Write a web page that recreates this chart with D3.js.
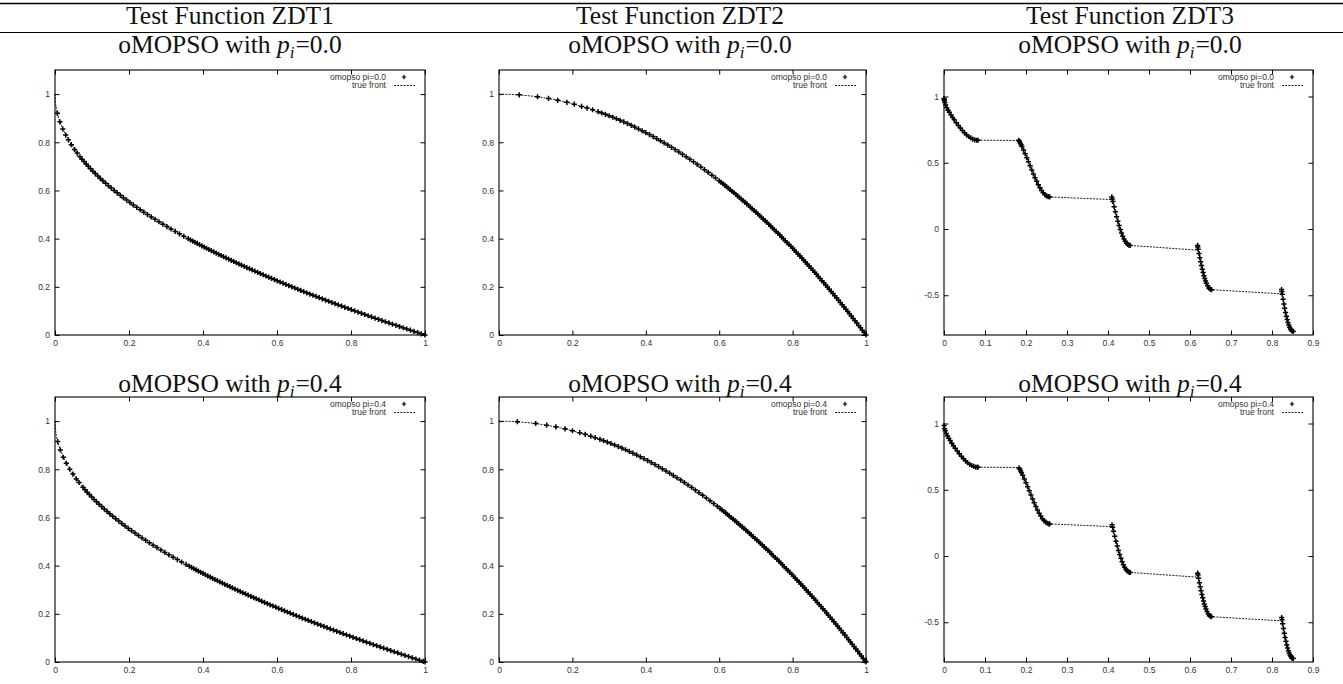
<!DOCTYPE html>
<html><head><meta charset="utf-8">
<script src="https://cdn.jsdelivr.net/npm/d3@7"></script>
<style>body{margin:0;background:#fff}svg{display:block}</style>
</head><body><svg id="c" width="1343" height="684"></svg>
<script>
// ---------------- data ----------------
const functionTitles = ["Test Function ZDT1", "Test Function ZDT2", "Test Function ZDT3"];
const piValues = ["0.0", "0.4"];
const ticks01 = [0, 0.2, 0.4, 0.6, 0.8, 1];
const ticksZdt3X = [0, 0.1, 0.2, 0.3, 0.4, 0.5, 0.6, 0.7, 0.8, 0.9];
const ticksZdt3Y = [-0.5, 0, 0.5, 1];
const domain01X = [0, 1], domain01Y = [0, 1.1];
const domainZdt3X = [0, 0.9], domainZdt3Y = [-0.8, 1.2];

const zdt1Front = [[0,1],[0.0001,0.99],[0.0004,0.98],[0.0016,0.96],[0.0036,0.94],[0.0064,0.92],[0.01,0.9],[0.0225,0.85],[0.04,0.8],[0.0625,0.75],[0.09,0.7],[0.1225,0.65],[0.16,0.6],[0.2025,0.55],[0.25,0.5],[0.3025,0.45],[0.36,0.4],[0.4225,0.35],[0.49,0.3],[0.5625,0.25],[0.64,0.2],[0.7225,0.15],[0.81,0.1],[0.9025,0.05],[1,0]];
const zdt2Front = [[0,1],[0.05,0.9975],[0.1,0.99],[0.15,0.9775],[0.2,0.96],[0.25,0.9375],[0.3,0.91],[0.35,0.8775],[0.4,0.84],[0.45,0.7975],[0.5,0.75],[0.55,0.6975],[0.6,0.64],[0.65,0.5775],[0.7,0.51],[0.75,0.4375],[0.8,0.36],[0.85,0.2775],[0.9,0.19],[0.95,0.0975],[1,0]];
const zdt3Front = [[0,1],[0.0005,0.978],[0.002,0.955],[0.007,0.915],[0.013,0.881],[0.021,0.842],[0.030,0.802],[0.040,0.762],[0.050,0.726],[0.060,0.698],[0.070,0.679],[0.080,0.670],[0.083,0.670],
 [0.1822,0.668],[0.190,0.623],[0.198,0.568],[0.206,0.508],[0.214,0.446],[0.222,0.387],[0.230,0.334],[0.238,0.291],[0.246,0.260],[0.254,0.244],[0.2578,0.242],
 [0.4105,0.222],[0.415,0.167],[0.421,0.093],[0.427,0.026],[0.433,-0.031],[0.439,-0.076],[0.445,-0.107],[0.451,-0.122],[0.4539,-0.124],
 [0.6203,-0.160],[0.624,-0.217],[0.628,-0.276],[0.632,-0.329],[0.636,-0.373],[0.640,-0.409],[0.646,-0.445],[0.6525,-0.458],
 [0.825,-0.490],[0.829,-0.566],[0.833,-0.630],[0.837,-0.683],[0.841,-0.725],[0.845,-0.754],[0.849,-0.770],[0.8518,-0.773]];

const zdt1Pi00 = [[0.0064,0.920],[0.0132,0.885],[0.0210,0.855],[0.0289,0.830],[0.0361,0.810],[0.0441,0.790],[0.0529,0.770],[0.0600,0.755],[0.0676,0.740],
 [0.0729,0.73],[0.0784,0.72],[0.0841,0.71],[0.0900,0.70],[0.0961,0.69],[0.1024,0.68],[0.1089,0.67],[0.1156,0.66],[0.1225,0.65],[0.1296,0.64],[0.1369,0.63],[0.1444,0.62],[0.1521,0.61],[0.1600,0.60],[0.1681,0.59],[0.1764,0.58],[0.1849,0.57],[0.1936,0.56],[0.2025,0.55],[0.2116,0.54],[0.2209,0.53],[0.2304,0.52],[0.2401,0.51],[0.2500,0.50],[0.2601,0.49],[0.2704,0.48],[0.2809,0.47],[0.2916,0.46],[0.3025,0.45],[0.3136,0.44],[0.3249,0.43],[0.3364,0.42],[0.3481,0.41],[0.3600,0.40],
 [0.3660,0.395],[0.3721,0.39],[0.3782,0.385],[0.3844,0.38],[0.3906,0.375],[0.3969,0.37],[0.4032,0.365],[0.4096,0.36],[0.4160,0.355],[0.4225,0.35],[0.4290,0.345],[0.4356,0.34],[0.4422,0.335],[0.4489,0.33],[0.4556,0.325],[0.4624,0.32],[0.4692,0.315],[0.4761,0.31],[0.4830,0.305],[0.4900,0.30],[0.4970,0.295],[0.5041,0.29],[0.5112,0.285],[0.5184,0.28],[0.5256,0.275],[0.5329,0.27],[0.5402,0.265],[0.5476,0.26],[0.5550,0.255],[0.5625,0.25],[0.5700,0.245],[0.5776,0.24],[0.5852,0.235],[0.5929,0.23],[0.6006,0.225],[0.6084,0.22],[0.6162,0.215],[0.6241,0.21],[0.6320,0.205],[0.6400,0.20],[0.6480,0.195],[0.6561,0.19],[0.6642,0.185],[0.6724,0.18],[0.6806,0.175],[0.6889,0.17],[0.6972,0.165],[0.7056,0.16],[0.7140,0.155],[0.7225,0.15],[0.7310,0.145],[0.7396,0.14],[0.7482,0.135],[0.7569,0.13],[0.7656,0.125],[0.7744,0.12],[0.7832,0.115],[0.7921,0.11],[0.8010,0.105],[0.8100,0.10],[0.8190,0.095],[0.8281,0.09],[0.8372,0.085],[0.8464,0.08],[0.8556,0.075],[0.8649,0.07],[0.8742,0.065],[0.8836,0.06],[0.8930,0.055],[0.9025,0.05],[0.9120,0.045],[0.9216,0.04],[0.9312,0.035],[0.9409,0.03],[0.9506,0.025],[0.9604,0.02],[0.9702,0.015],[0.9801,0.01],[0.9900,0.005],[1.0000,0.0]];

const zdt1Pi04 = [[0.0072,0.915],[0.0144,0.88],[0.0225,0.85],[0.0306,0.825],[0.0400,0.80],[0.0484,0.78],[0.0576,0.76],[0.0650,0.745],
 [0.0756,0.725],[0.0812,0.715],[0.0870,0.705],[0.0930,0.695],[0.0992,0.685],[0.1056,0.675],[0.1122,0.665],[0.1190,0.655],[0.1260,0.645],[0.1332,0.635],[0.1406,0.625],[0.1482,0.615],[0.1560,0.605],[0.1640,0.595],[0.1722,0.585],[0.1806,0.575],[0.1892,0.565],[0.1980,0.555],[0.2070,0.545],[0.2162,0.535],[0.2256,0.525],[0.2352,0.515],[0.2450,0.505],[0.2550,0.495],[0.2652,0.485],[0.2756,0.475],[0.2862,0.465],[0.2970,0.455],[0.3080,0.445],[0.3192,0.435],[0.3306,0.425],[0.3422,0.415],[0.3540,0.405],
 [0.3630,0.3975],[0.3691,0.3925],[0.3752,0.3875],[0.3813,0.3825],[0.3875,0.3775],[0.3938,0.3725],[0.4001,0.3675],[0.4064,0.3625],[0.4128,0.3575],[0.4193,0.3525],[0.4258,0.3475],[0.4323,0.3425],[0.4389,0.3375],[0.4456,0.3325],[0.4523,0.3275],[0.4590,0.3225],[0.4658,0.3175],[0.4727,0.3125],[0.4796,0.3075],[0.4865,0.3025],[0.4935,0.2975],[0.5006,0.2925],[0.5077,0.2875],[0.5148,0.2825],[0.5220,0.2775],[0.5293,0.2725],[0.5366,0.2675],[0.5439,0.2625],[0.5513,0.2575],[0.5588,0.2525],[0.5663,0.2475],[0.5738,0.2425],[0.5814,0.2375],[0.5891,0.2325],[0.5968,0.2275],[0.6045,0.2225],[0.6123,0.2175],[0.6202,0.2125],[0.6281,0.2075],[0.6360,0.2025],[0.6440,0.1975],[0.6521,0.1925],[0.6602,0.1875],[0.6683,0.1825],[0.6765,0.1775],[0.6848,0.1725],[0.6931,0.1675],[0.7014,0.1625],[0.7098,0.1575],[0.7183,0.1525],[0.7268,0.1475],[0.7353,0.1425],[0.7439,0.1375],[0.7526,0.1325],[0.7613,0.1275],[0.7700,0.1225],[0.7788,0.1175],[0.7877,0.1125],[0.7966,0.1075],[0.8055,0.1025],[0.8145,0.0975],[0.8236,0.0925],[0.8327,0.0875],[0.8418,0.0825],[0.8510,0.0775],[0.8603,0.0725],[0.8696,0.0675],[0.8789,0.0625],[0.8883,0.0575],[0.8978,0.0525],[0.9073,0.0475],[0.9168,0.0425],[0.9264,0.0375],[0.9361,0.0325],[0.9458,0.0275],[0.9555,0.0225],[0.9653,0.0175],[0.9752,0.0125],[0.9851,0.0075],[0.9950,0.0025],[1.0,0.0]];

const zdt2Pi00 = [[0.055,0.997],[0.105,0.989],[0.135,0.982],[0.160,0.974],[0.185,0.966],[0.205,0.958],[0.225,0.949],[0.240,0.942],[0.255,0.935],
 [0.27,0.9271],[0.28,0.9216],[0.29,0.9159],[0.30,0.91],[0.31,0.9039],[0.32,0.8976],[0.33,0.8911],[0.34,0.8844],[0.35,0.8775],[0.36,0.8704],[0.37,0.8631],[0.38,0.8556],[0.39,0.8479],[0.40,0.84],[0.41,0.8319],[0.42,0.8236],[0.43,0.8151],[0.44,0.8064],[0.45,0.7975],[0.46,0.7884],[0.47,0.7791],[0.48,0.7696],[0.49,0.7599],[0.50,0.75],[0.51,0.7399],[0.52,0.7296],[0.53,0.7191],[0.54,0.7084],[0.55,0.6975],[0.56,0.6864],[0.57,0.6751],[0.58,0.6636],[0.59,0.6519],[0.60,0.64],
 [0.605,0.634],[0.61,0.6279],[0.615,0.6218],[0.62,0.6156],[0.625,0.6094],[0.63,0.6031],[0.635,0.5968],[0.64,0.5904],[0.645,0.584],[0.65,0.5775],[0.655,0.571],[0.66,0.5644],[0.665,0.5578],[0.67,0.5511],[0.675,0.5444],[0.68,0.5376],[0.685,0.5308],[0.69,0.5239],[0.695,0.517],[0.70,0.51],[0.705,0.503],[0.71,0.4959],[0.715,0.4888],[0.72,0.4816],[0.725,0.4744],[0.73,0.4671],[0.735,0.4598],[0.74,0.4524],[0.745,0.445],[0.75,0.4375],[0.755,0.43],[0.76,0.4224],[0.765,0.4148],[0.77,0.4071],[0.775,0.3994],[0.78,0.3916],[0.785,0.3838],[0.79,0.3759],[0.795,0.368],[0.80,0.36],[0.805,0.352],[0.81,0.3439],[0.815,0.3358],[0.82,0.3276],[0.825,0.3194],[0.83,0.3111],[0.835,0.3028],[0.84,0.2944],[0.845,0.286],[0.85,0.2775],[0.855,0.269],[0.86,0.2604],[0.865,0.2518],[0.87,0.2431],[0.875,0.2344],[0.88,0.2256],[0.885,0.2168],[0.89,0.2079],[0.895,0.199],[0.90,0.19],[0.905,0.181],[0.91,0.1719],[0.915,0.1628],[0.92,0.1536],[0.925,0.1444],[0.93,0.1351],[0.935,0.1258],[0.94,0.1164],[0.945,0.107],[0.95,0.0975],[0.955,0.088],[0.96,0.0784],[0.965,0.0688],[0.97,0.0591],[0.975,0.0494],[0.98,0.0396],[0.985,0.0298],[0.99,0.0199],[0.995,0.01],[1.0,0.0]];

const zdt2Pi04 = [[0.05,0.9975],[0.10,0.99],[0.13,0.983],[0.155,0.976],[0.18,0.968],[0.20,0.96],[0.22,0.952],[0.235,0.945],[0.25,0.9375],[0.262,0.931],
 [0.275,0.9244],[0.285,0.9188],[0.295,0.913],[0.305,0.907],[0.315,0.9008],[0.325,0.8944],[0.335,0.8878],[0.345,0.881],[0.355,0.874],[0.365,0.8668],[0.375,0.8594],[0.385,0.8518],[0.395,0.844],[0.405,0.836],[0.415,0.8278],[0.425,0.8194],[0.435,0.8108],[0.445,0.802],[0.455,0.793],[0.465,0.7838],[0.475,0.7744],[0.485,0.7648],[0.495,0.755],[0.505,0.745],[0.515,0.7348],[0.525,0.7244],[0.535,0.7138],[0.545,0.703],[0.555,0.692],[0.565,0.6808],[0.575,0.6694],[0.585,0.6578],[0.595,0.646],
 [0.6025,0.637],[0.6075,0.6309],[0.6125,0.6248],[0.6175,0.6187],[0.6225,0.6125],[0.6275,0.6062],[0.6325,0.5999],[0.6375,0.5936],[0.6425,0.5872],[0.6475,0.5807],[0.6525,0.5742],[0.6575,0.5677],[0.6625,0.5611],[0.6675,0.5544],[0.6725,0.5477],[0.6775,0.541],[0.6825,0.5342],[0.6875,0.5273],[0.6925,0.5204],[0.6975,0.5135],[0.7025,0.5065],[0.7075,0.4994],[0.7125,0.4923],[0.7175,0.4852],[0.7225,0.478],[0.7275,0.4707],[0.7325,0.4634],[0.7375,0.4561],[0.7425,0.4487],[0.7475,0.4412],[0.7525,0.4337],[0.7575,0.4262],[0.7625,0.4186],[0.7675,0.4109],[0.7725,0.4032],[0.7775,0.3955],[0.7825,0.3877],[0.7875,0.3798],[0.7925,0.3719],[0.7975,0.364],[0.8025,0.356],[0.8075,0.3479],[0.8125,0.3398],[0.8175,0.3317],[0.8225,0.3235],[0.8275,0.3152],[0.8325,0.3069],[0.8375,0.2986],[0.8425,0.2902],[0.8475,0.2817],[0.8525,0.2732],[0.8575,0.2647],[0.8625,0.2561],[0.8675,0.2474],[0.8725,0.2387],[0.8775,0.23],[0.8825,0.2212],[0.8875,0.2123],[0.8925,0.2034],[0.8975,0.1945],[0.9025,0.1855],[0.9075,0.1764],[0.9125,0.1673],[0.9175,0.1582],[0.9225,0.149],[0.9275,0.1397],[0.9325,0.1304],[0.9375,0.1211],[0.9425,0.1117],[0.9475,0.1022],[0.9525,0.0927],[0.9575,0.0832],[0.9625,0.0736],[0.9675,0.0639],[0.9725,0.0542],[0.9775,0.0445],[0.9825,0.0347],[0.9875,0.0248],[0.9925,0.0149],[0.9975,0.005],[1.0,0.0]];

const zdt3Pi00 = [[0,0.985],[0.0005,0.978],[0.001,0.968],[0.002,0.955],[0.004,0.936],[0.007,0.915],[0.010,0.897],[0.013,0.881],[0.017,0.861],[0.021,0.842],[0.025,0.824],[0.030,0.802],[0.035,0.782],[0.040,0.762],[0.045,0.743],[0.050,0.726],[0.055,0.711],[0.060,0.698],[0.065,0.687],[0.070,0.679],[0.075,0.673],[0.080,0.670],[0.083,0.670],
 [0.1822,0.670],[0.184,0.660],[0.186,0.648],[0.188,0.636],[0.190,0.623],[0.194,0.596],[0.198,0.568],[0.202,0.538],[0.206,0.508],[0.210,0.477],[0.214,0.446],[0.218,0.416],[0.222,0.387],[0.226,0.360],[0.230,0.334],[0.234,0.311],[0.238,0.291],[0.242,0.274],[0.246,0.260],[0.250,0.250],[0.254,0.244],[0.2578,0.242],
 [0.4093,0.242],[0.4105,0.226],[0.412,0.207],[0.415,0.167],[0.418,0.130],[0.421,0.093],[0.424,0.059],[0.427,0.026],[0.430,-0.004],[0.433,-0.031],[0.436,-0.055],[0.439,-0.076],[0.442,-0.093],[0.445,-0.107],[0.448,-0.116],[0.451,-0.122],[0.4539,-0.124],
 [0.6184,-0.124],[0.619,-0.135],[0.620,-0.152],[0.622,-0.185],[0.624,-0.217],[0.626,-0.248],[0.628,-0.276],[0.630,-0.303],[0.632,-0.329],[0.634,-0.352],[0.636,-0.373],[0.638,-0.392],[0.640,-0.409],[0.643,-0.429],[0.646,-0.445],[0.649,-0.454],[0.6525,-0.458],
 [0.8233,-0.457],[0.824,-0.472],[0.825,-0.492],[0.827,-0.530],[0.829,-0.566],[0.831,-0.599],[0.833,-0.630],[0.835,-0.658],[0.837,-0.683],[0.839,-0.705],[0.841,-0.725],[0.843,-0.741],[0.845,-0.754],[0.847,-0.764],[0.849,-0.770],[0.8518,-0.773]];

const zdt3Pi04 = [[0.0003,0.985],[0.0015,0.961],[0.003,0.945],[0.0055,0.925],[0.0085,0.906],[0.0115,0.889],[0.015,0.871],[0.019,0.851],[0.023,0.833],[0.0275,0.813],[0.0325,0.792],[0.0375,0.772],[0.0425,0.752],[0.0475,0.734],[0.0525,0.718],[0.0575,0.704],[0.0625,0.692],[0.0675,0.683],[0.0725,0.676],[0.0775,0.671],[0.0815,0.670],[0.083,0.670],
 [0.183,0.665],[0.185,0.654],[0.187,0.642],[0.189,0.629],[0.192,0.609],[0.196,0.582],[0.200,0.553],[0.204,0.523],[0.208,0.492],[0.212,0.461],[0.216,0.431],[0.220,0.401],[0.224,0.373],[0.228,0.347],[0.232,0.322],[0.236,0.301],[0.240,0.282],[0.244,0.267],[0.248,0.255],[0.252,0.247],[0.256,0.243],[0.2578,0.242],
 [0.4098,0.235],[0.4113,0.217],[0.4135,0.187],[0.4165,0.149],[0.4195,0.111],[0.4225,0.076],[0.4255,0.042],[0.4285,0.011],[0.4315,-0.017],[0.4345,-0.043],[0.4375,-0.066],[0.4405,-0.085],[0.4435,-0.100],[0.4465,-0.112],[0.4495,-0.119],[0.4525,-0.123],[0.4539,-0.124],
 [0.6187,-0.130],[0.6195,-0.143],[0.621,-0.168],[0.623,-0.201],[0.625,-0.232],[0.627,-0.262],[0.629,-0.290],[0.631,-0.316],[0.633,-0.340],[0.635,-0.362],[0.637,-0.382],[0.639,-0.400],[0.6415,-0.419],[0.6445,-0.437],[0.6475,-0.450],[0.6505,-0.456],[0.6525,-0.458],
 [0.8236,-0.464],[0.8245,-0.482],[0.826,-0.511],[0.828,-0.548],[0.830,-0.583],[0.832,-0.615],[0.834,-0.644],[0.836,-0.671],[0.838,-0.694],[0.840,-0.715],[0.842,-0.733],[0.844,-0.748],[0.846,-0.759],[0.848,-0.767],[0.850,-0.772],[0.8518,-0.773]];

// ---------------- layout ----------------
const colLeft = [55, 499, 944], colRight = [425, 866, 1313];
const rowTop = [70, 397], rowBottom = [335, 662];
const colCenter = [230, 680, 1130];
const subBase = [52.5, 391.5];
const serif = "'Liberation Serif','Times New Roman',serif";
const sans = "'Liberation Sans',Arial,Helvetica,sans-serif";

const svg = d3.select("#c");
svg.append("rect").attr("width",1343).attr("height",684).attr("fill","#fff");

// table rules
svg.append("line").attr("x1",0).attr("x2",1343).attr("y1",3.5).attr("y2",3.5).attr("stroke","#000").attr("stroke-width",1.6);
svg.append("line").attr("x1",0).attr("x2",1343).attr("y1",32.5).attr("y2",32.5).attr("stroke","#000").attr("stroke-width",1.1);

functionTitles.forEach((t,i) => {
  svg.append("text").attr("x",colCenter[i]).attr("y",24).attr("text-anchor","middle")
    .attr("font-family",serif).attr("font-size",25.5).attr("fill","#111").text(t);
});

const panelDefs = [
  {fx:0, data:[zdt1Pi00, zdt1Pi04], front:zdt1Front, xd:domain01X, yd:domain01Y, xt:ticks01, yt:ticks01},
  {fx:1, data:[zdt2Pi00, zdt2Pi04], front:zdt2Front, xd:domain01X, yd:domain01Y, xt:ticks01, yt:ticks01},
  {fx:2, data:[zdt3Pi00, zdt3Pi04], front:zdt3Front, xd:domainZdt3X, yd:domainZdt3Y, xt:ticksZdt3X, yt:ticksZdt3Y}
];

const fmt = d => String(+d.toFixed(1));
const plusPath = "M-2.6,0H2.6M0,-2.6V2.6";

[0,1].forEach(r => {
  panelDefs.forEach(p => {
    const c = p.fx;
    // subtitle
    const t = svg.append("text").attr("x",colCenter[c]).attr("y",subBase[r]).attr("text-anchor","middle")
      .attr("font-family",serif).attr("font-size",25.5).attr("fill","#111");
    t.append("tspan").text("oMOPSO with ");
    t.append("tspan").attr("font-style","italic").text("p");
    t.append("tspan").attr("font-style","italic").attr("font-size",17).attr("dy",5).text("i");
    t.append("tspan").attr("dy",-5).attr("dx",1).text("=");
    t.append("tspan").attr("dx",0).text(piValues[r]);

    const L = colLeft[c], R = colRight[c], T = rowTop[r], B = rowBottom[r];
    const x = d3.scaleLinear().domain(p.xd).range([L, R]);
    const y = d3.scaleLinear().domain(p.yd).range([B, T]);
    const g = svg.append("g");

    const styleAxis = sel => {
      sel.select(".domain").remove();
      sel.attr("font-family", sans).attr("font-size", 8.5);
      sel.selectAll("line").attr("stroke","#000").attr("stroke-width",1);
      sel.selectAll("text").attr("fill","#333");
    };
    g.append("g").attr("transform",`translate(0,${B})`)
      .call(d3.axisBottom(x).tickValues(p.xt).tickSizeInner(-4.5).tickSizeOuter(0).tickPadding(4.5).tickFormat(fmt)).call(styleAxis);
    g.append("g").attr("transform",`translate(0,${T})`)
      .call(d3.axisTop(x).tickValues(p.xt).tickSizeInner(-4.5).tickSizeOuter(0).tickFormat("")).call(styleAxis);
    g.append("g").attr("transform",`translate(${L},0)`)
      .call(d3.axisLeft(y).tickValues(p.yt).tickSizeInner(-4.5).tickSizeOuter(0).tickPadding(5).tickFormat(fmt)).call(styleAxis);
    g.append("g").attr("transform",`translate(${R},0)`)
      .call(d3.axisRight(y).tickValues(p.yt).tickSizeInner(-4.5).tickSizeOuter(0).tickFormat("")).call(styleAxis);

    // true front
    const line = d3.line().x(d => x(d[0])).y(d => y(d[1]));
    g.append("path").attr("d", line(p.front)).attr("fill","none").attr("stroke","#000")
      .attr("stroke-width",0.9).attr("stroke-dasharray","2,1.2");

    // solutions
    g.append("g").selectAll("path").data(p.data[r]).join("path")
      .attr("transform", d => `translate(${x(d[0])},${y(d[1])})`)
      .attr("d", plusPath).attr("stroke","#000").attr("stroke-width",1.5).attr("fill","none");

    // frame
    g.append("rect").attr("x",L).attr("y",T).attr("width",R-L).attr("height",B-T)
      .attr("fill","none").attr("stroke","#000").attr("stroke-width",1.1);

    // legend
    const lg = g.append("g").attr("font-family",sans).attr("font-size",8.5).attr("fill","#333");
    lg.append("text").attr("x",R-39).attr("y",T+7).attr("dy","0.35em").attr("text-anchor","end")
      .text("omopso pi=" + piValues[r]);
    lg.append("path").attr("transform",`translate(${R-21},${T+7})`).attr("d","M-2.2,0H2.2M0,-2.2V2.2")
      .attr("stroke","#000").attr("stroke-width",1.2);
    lg.append("text").attr("x",R-39).attr("y",T+15.5).attr("dy","0.35em").attr("text-anchor","end")
      .text("true front");
    lg.append("line").attr("x1",R-31).attr("x2",R-10).attr("y1",T+15.5).attr("y2",T+15.5)
      .attr("stroke","#000").attr("stroke-width",0.9).attr("stroke-dasharray","2,1.2");
  });
});
</script>
</body></html>
